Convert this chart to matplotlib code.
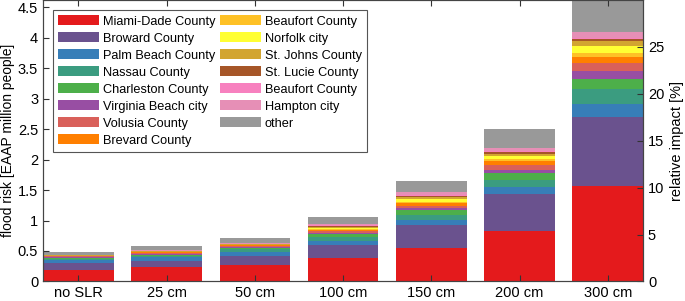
import numpy as np
import matplotlib
matplotlib.use("Agg")
from matplotlib import pyplot as plt

plt.rcParams['font.family'] = ['Liberation Sans', 'DejaVu Sans']

scenarios = ["no SLR", "25 cm", "50 cm", "100 cm", "150 cm", "200 cm", "300 cm"]

counties = ["Miami-Dade County", "Broward County", "Palm Beach County", "Nassau County",
            "Charleston County", "Virginia Beach city", "Volusia County", "Brevard County",
            "Beaufort County", "Norfolk city", "St. Johns County", "St. Lucie County",
            "Beaufort County", "Hampton city", "other"]

# flood risk per county [million people]
miami_dade = [0.19, 0.23, 0.27, 0.38, 0.555, 0.83, 1.57]
broward = [0.11, 0.11, 0.14, 0.21, 0.365, 0.60, 1.13]
palm_beach = [0.05, 0.06, 0.08, 0.075, 0.09, 0.12, 0.21]
nassau = [0.025, 0.02, 0.04, 0.07, 0.08, 0.12, 0.25]
charleston = [0.015, 0.02, 0.02, 0.04, 0.08, 0.11, 0.16]
virginia_beach = [0.01, 0.015, 0.015, 0.025, 0.04, 0.05, 0.14]
volusia = [0.01, 0.01, 0.015, 0.02, 0.035, 0.08, 0.12]
brevard = [0.005, 0.01, 0.01, 0.025, 0.035, 0.06, 0.11]
beaufort = [0.005, 0.005, 0.005, 0.015, 0.03, 0.04, 0.06]
norfolk = [0.005, 0.01, 0.01, 0.025, 0.045, 0.05, 0.11]
st_johns = [0.003, 0.005, 0.005, 0.015, 0.035, 0.04, 0.08]
st_lucie = [0.002, 0.005, 0.005, 0.01, 0.01, 0.03, 0.04]
beaufort2 = [0.002, 0.005, 0.005, 0.01, 0.02, 0.01, 0.02]
hampton = [0.003, 0.005, 0.007, 0.025, 0.04, 0.05, 0.09]
other = [0.05, 0.07, 0.083, 0.115, 0.19, 0.31, 0.61]

series = [miami_dade, broward, palm_beach, nassau, charleston, virginia_beach, volusia,
          brevard, beaufort, norfolk, st_johns, st_lucie, beaufort2, hampton, other]

colors = ['#e41a1c', '#6a528e', '#377eb8', '#3b9c80', '#4daf4a', '#984ea3', '#d9605a',
          '#ff7f00', '#fec126', '#ffff33', '#d2a530', '#a65628', '#f781bf', '#e68fb6', '#999999']

fig = plt.figure(figsize=(6.85, 3.01), dpi=100)
ax = fig.add_axes([0.0628, 0.065, 0.876, 0.935])

x = np.arange(1, len(scenarios) + 1)
bottom = np.zeros(len(scenarios))
for name, vals, c in zip(counties, series, colors):
    ax.bar(x, vals, 0.8, bottom=bottom, color=c, label=name, linewidth=0)
    bottom = bottom + np.array(vals)

ax.set_xlim(0.6, 7.4)
ax.set_ylim(0, 4.62)
ax.set_xticks(x)
ax.set_xticklabels(scenarios)
ax.set_yticks(np.arange(0, 4.51, 0.5))
ax.set_yticklabels(['0', '0.5', '1', '1.5', '2', '2.5', '3', '3.5', '4', '4.5'])
ax.tick_params(direction='in', labelsize=10.5, top=True, color='#333333', length=4)
ax.set_ylabel('flood risk [EAAP million people]', fontsize=10, labelpad=2)
for s in ax.spines.values():
    s.set_color('#444444')
    s.set_linewidth(0.8)

ax2 = ax.twinx()
ax2.set_ylim(0, 30)
ax2.set_yticks([0, 5, 10, 15, 20, 25])
ax2.tick_params(direction='in', labelsize=10.5, color='#333333', length=4)
ax2.set_ylabel('relative impact [%]', fontsize=10.5, labelpad=4)
for s in ax2.spines.values():
    s.set_color('#444444')
    s.set_linewidth(0.8)

leg = ax.legend(ncol=2, loc='upper left', bbox_to_anchor=(0.0167, 0.9645), borderaxespad=0,
                fontsize=9.2, handlelength=3.2, handleheight=0.85, labelspacing=0.35,
                columnspacing=0.35, handletextpad=0.3, borderpad=0.4,
                fancybox=False, framealpha=1)
leg.get_frame().set_edgecolor('#555555')
leg.get_frame().set_linewidth(0.8)

plt.savefig('out.png', dpi=100)
